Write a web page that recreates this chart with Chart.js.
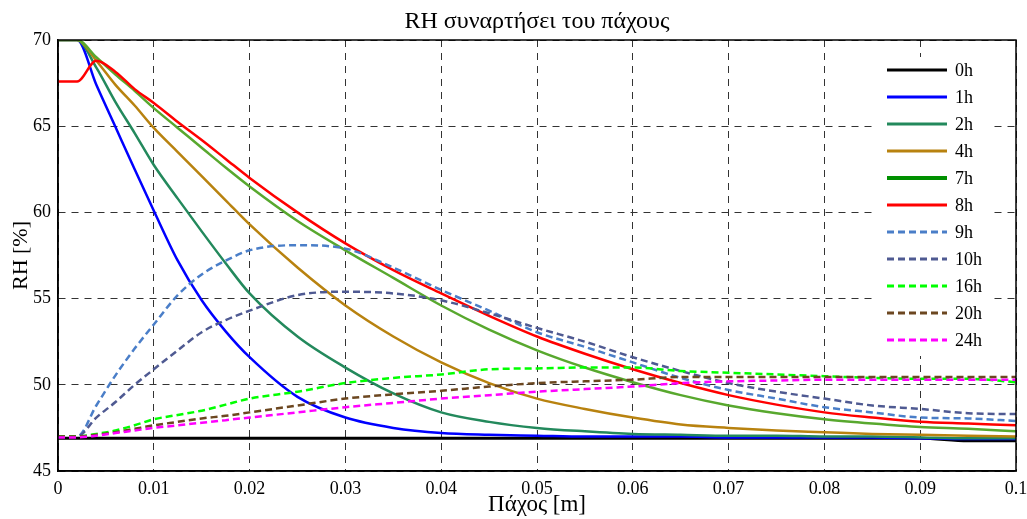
<!DOCTYPE html>
<html>
<head>
<meta charset="utf-8">
<script src="https://cdn.jsdelivr.net/npm/chart.js@4/dist/chart.umd.min.js"></script>
<style>
  html, body { margin: 0; padding: 0; background: #fff; }
  #wrap { width: 1027px; height: 519px; }
</style>
</head>
<body>
<div id="wrap"><canvas id="rhChart" width="1027" height="519"></canvas></div>
<script>
// thickness positions [m]
var thickness = [0, 0.002, 0.004, 0.006, 0.008, 0.01, 0.0125, 0.015, 0.0175, 0.02, 0.025, 0.03, 0.035,
  0.04, 0.045, 0.05, 0.055, 0.06, 0.065, 0.07, 0.075, 0.08, 0.085, 0.09, 0.095, 0.1];

var seriesNames = ['0h', '1h', '2h', '4h', '7h', '8h', '9h', '10h', '16h', '20h', '24h'];

var rh0h = [46.9, 46.9, 46.9, 46.9, 46.9, 46.9, 46.9, 46.9, 46.9, 46.9, 46.9, 46.9, 46.9,
  46.9, 46.9, 46.9, 46.9, 46.9, 46.9, 46.9, 46.9, 46.9, 46.9, 46.9, 46.75, 46.75];
var rh1h = [70, 70, 67.4, 64.95, 62.5, 60.1, 57.2, 54.9, 53.1, 51.6, 49.3, 48.1, 47.5,
  47.2, 47.1, 47.05, 47.0, 47.0, 47.0, 46.95, 46.95, 46.95, 46.95, 46.9, 46.85, 46.85];
var rh2h = [70, 70, 68.4, 66.4, 64.6, 62.75, 60.8, 58.9, 57.05, 55.3, 52.8, 51.0, 49.5,
  48.4, 47.85, 47.5, 47.3, 47.15, 47.1, 47.05, 47.05, 47.0, 47.0, 46.95, 46.9, 46.9];
var rh4h = [70, 70, 68.8, 67.4, 66.2, 64.9, 63.5, 62.1, 60.7, 59.3, 56.8, 54.6, 52.8,
  51.3, 50.1, 49.2, 48.6, 48.1, 47.7, 47.5, 47.35, 47.25, 47.15, 47.1, 47.05, 47.0];
var rh7h = [70, 70, 69.0, 68.0, 67.05, 66.05, 64.9, 63.75, 62.6, 61.5, 59.5, 57.8, 56.2,
  54.6, 53.2, 52.0, 51.0, 50.15, 49.4, 48.8, 48.35, 48.0, 47.75, 47.55, 47.45, 47.3];
var rh8h = [67.6, 67.6, 68.8, 68.15, 67.15, 66.35, 65.25, 64.2, 63.1, 62.0, 60.0, 58.2, 56.65,
  55.3, 54.0, 52.8, 51.8, 50.9, 50.1, 49.4, 48.85, 48.4, 48.1, 47.85, 47.75, 47.65];
var rh9h = [47.0, 47.0, 48.8, 50.55, 52.1, 53.5, 55.2, 56.4, 57.2, 57.8, 58.1, 57.9, 56.8,
  55.5, 54.3, 53.05, 52.2, 51.3, 50.4, 49.7, 49.2, 48.7, 48.4, 48.1, 48.05, 47.9];
var rh10h = [47.0, 47.0, 48.1, 49.0, 50.0, 50.9, 52.0, 53.05, 53.75, 54.3, 55.2, 55.4, 55.3,
  54.9, 54.15, 53.3, 52.5, 51.6, 50.8, 50.1, 49.6, 49.2, 48.8, 48.6, 48.35, 48.3];
var rh16h = [47.0, 47.0, 47.15, 47.35, 47.65, 48.0, 48.25, 48.5, 48.85, 49.2, 49.6, 50.1, 50.4,
  50.6, 50.9, 50.95, 51.0, 51.0, 50.8, 50.7, 50.6, 50.5, 50.4, 50.35, 50.35, 50.15];
var rh20h = [47.0, 47.0, 47.1, 47.25, 47.45, 47.65, 47.85, 48.05, 48.2, 48.4, 48.8, 49.2, 49.45,
  49.65, 49.9, 50.1, 50.2, 50.3, 50.45, 50.45, 50.45, 50.45, 50.45, 50.45, 50.45, 50.45];
var rh24h = [46.95, 46.95, 47.05, 47.2, 47.35, 47.5, 47.65, 47.8, 47.95, 48.1, 48.4, 48.7, 48.95,
  49.2, 49.4, 49.6, 49.75, 49.9, 50.1, 50.2, 50.25, 50.3, 50.3, 50.3, 50.3, 50.3];

var allSeries = [rh0h, rh1h, rh2h, rh4h, rh7h, rh8h, rh9h, rh10h, rh16h, rh20h, rh24h];

var lineColors = ['#000000', '#0000ff', '#23895c', '#b8820f', '#58a82e', '#ff0000',
  '#4a7ec8', '#4f5a92', '#00ff00', '#6c4720', '#ff00ff'];
var legendColors = ['#000000', '#0000ff', '#23895c', '#b8820f', '#009000', '#ff0000',
  '#4a7ec8', '#4f5a92', '#00ff00', '#6c4720', '#ff00ff'];
var dashed = [false, false, false, false, false, false, true, true, true, true, true];

var serif = '"Liberation Serif", "DejaVu Serif", serif';

var datasets = seriesNames.map(function (name, i) {
  return {
    label: name,
    data: thickness.map(function (x, j) { return { x: x, y: allSeries[i][j] }; }),
    borderColor: lineColors[i],
    backgroundColor: lineColors[i],
    borderWidth: i === 0 ? 3 : 2.5,
    borderDash: dashed[i] ? [7, 4] : [],
    pointRadius: 0,
    cubicInterpolationMode: 'monotone',
    order: seriesNames.length - i
  };
});

// title over the axes, frame box and the in-plot legend (MATLAB style)
var matlabBits = {
  id: 'matlabBits',
  afterDatasetsDraw: function (chart) {
    var ctx = chart.ctx, a = chart.chartArea;
    ctx.save();
    ctx.strokeStyle = '#000';
    ctx.lineWidth = 1.5;
    ctx.setLineDash([]);
    ctx.strokeRect(a.left, a.top, a.right - a.left, a.bottom - a.top);

    ctx.fillStyle = '#000';
    ctx.font = '24px ' + serif;
    ctx.textAlign = 'center';
    ctx.textBaseline = 'middle';
    ctx.fillText('RH συναρτήσει του πάχους', (a.left + a.right) / 2, 22);

    // legend
    var lx = 877, ly = 57, lw = 116, step = 27;
    ctx.fillStyle = '#fff';
    ctx.fillRect(lx, ly, lw, step * seriesNames.length + 2);
    ctx.font = '18px ' + serif;
    ctx.textAlign = 'left';
    chart.data.datasets.forEach(function (ds, i) {
      var y = ly + 13 + i * step;
      ctx.beginPath();
      ctx.strokeStyle = legendColors[i];
      ctx.lineWidth = i === 4 ? 4 : 3;
      ctx.setLineDash(ds.borderDash);
      ctx.moveTo(lx + 10, y);
      ctx.lineTo(lx + 70, y);
      ctx.stroke();
      ctx.fillStyle = '#000';
      ctx.fillText(ds.label, lx + 78, y + 1);
    });
    ctx.restore();
  }
};

new Chart(document.getElementById('rhChart'), {
  type: 'line',
  data: { datasets: datasets },
  plugins: [matlabBits],
  options: {
    responsive: false,
    animation: false,
    layout: { padding: { top: 40, right: 0, left: 0, bottom: 0 } },
    plugins: {
      legend: { display: false },
      title: { display: false },
      tooltip: { enabled: false }
    },
    scales: {
      x: {
        type: 'linear',
        min: 0,
        max: 0.1,
        afterFit: function (s) { s.height = 48; s.paddingRight = 11; },
        ticks: {
          stepSize: 0.01,
          padding: 7,
          color: '#000',
          font: { family: serif, size: 18 },
          maxRotation: 0,
          callback: function (v) { return String(Number(v.toFixed(2))); }
        },
        grid: { color: '#333', lineWidth: 1, drawTicks: false },
        border: { color: '#000', width: 1.5, dash: [7, 6] },
        title: {
          display: true,
          text: 'Πάχος [m]',
          color: '#000',
          font: { family: serif, size: 23 },
          padding: { top: 0, bottom: 0 }
        }
      },
      y: {
        min: 45,
        max: 70,
        afterFit: function (s) { s.width = 58; },
        ticks: {
          stepSize: 5,
          padding: 7,
          color: '#000',
          font: { family: serif, size: 18 }
        },
        grid: { color: '#333', lineWidth: 1, drawTicks: false },
        border: { color: '#000', width: 1.5, dash: [7, 6] },
        title: {
          display: true,
          text: 'RH [%]',
          color: '#000',
          font: { family: serif, size: 22 },
          padding: { top: 8, bottom: 0 }
        }
      }
    }
  }
});
</script>
</body>
</html>
